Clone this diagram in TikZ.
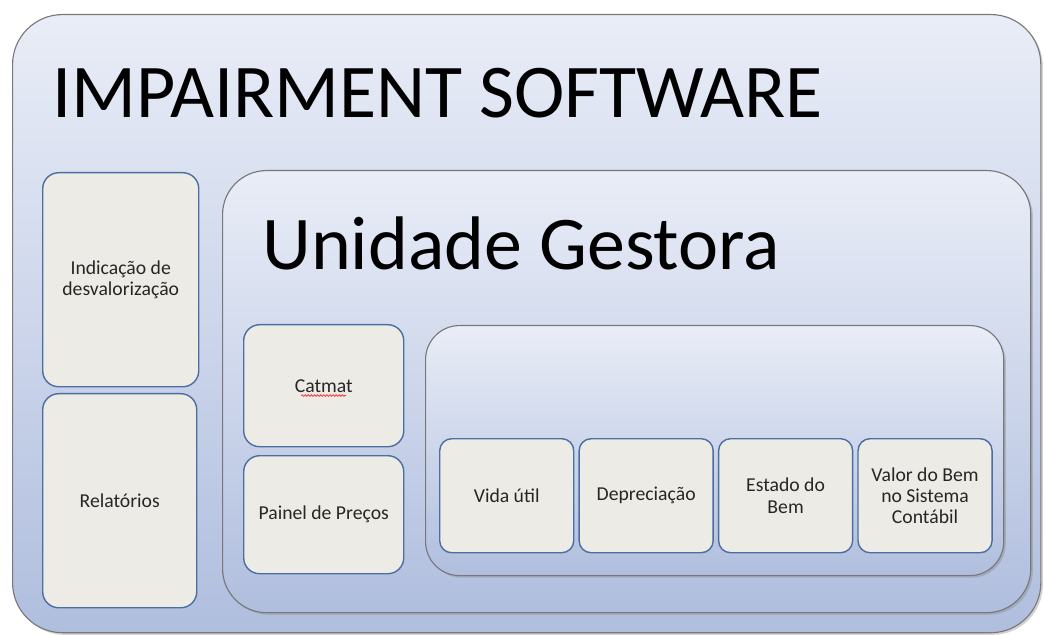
\documentclass[tikz,border=0pt]{standalone}
\usepackage{fontspec}
\setmainfont{Carlito}
\usepackage{xcolor}
\usepackage{tikz}
\usetikzlibrary{positioning,shadows,decorations.pathmorphing}
\definecolor{frameblue}{RGB}{74, 111, 160}
\definecolor{cardfill}{RGB}{236, 235, 229}
\definecolor{paneltop}{RGB}{233, 237, 247}
\definecolor{panelbottom}{RGB}{176, 190, 222}
\definecolor{panelline}{RGB}{120, 120, 120}
\definecolor{cardtext}{RGB}{38, 38, 38}
\tikzset{
  panelbox/.style={
    draw=panelline,
    line width=0.8pt,
    top color=paneltop,
    bottom color=panelbottom,
    drop shadow={shadow xshift=1.5pt, shadow yshift=-1.5pt, opacity=0.35},
    anchor=north west,
    inner sep=0pt
  },
  cardbox/.style={
    draw=frameblue,
    line width=1pt,
    fill=cardfill,
    rounded corners=0.4cm,
    align=center,
    anchor=north west,
    text=cardtext,
    font=\fontsize{14}{15}\selectfont
  },
  tinycard/.style={
    cardbox,
    rounded corners=0.3cm,
    minimum width=3.35cm,
    minimum height=2.85cm
  },
  bigtitle/.style={
    anchor=base west,
    inner sep=0pt,
    font=\fontsize{54}{60}\selectfont
  }
}

\begin{document}
\begin{tikzpicture}[x=0.025cm, y=-0.025cm]
  \useasboundingbox (0,0) rectangle (1045,635);

  % outer frame
  \node[panelbox, rounded corners=1.25cm, minimum width=25.7cm, minimum height=15.45cm] (software) at (12,14) {};
  \node[bigtitle] (softtitle) at (52,118) {IMPAIRMENT SOFTWARE};

  \node[cardbox, minimum width=3.9cm, minimum height=5.35cm] (indic) at (42,172) {Indicação de\\desvalorização};
  \node[cardbox, minimum width=3.85cm, minimum height=5.35cm] (relat) at (42,393) {Relatórios};

  % unidade gestora
  \node[panelbox, rounded corners=1.1cm, minimum width=20.2cm, minimum height=11.05cm] (gestora) at (222,170) {};
  \node[bigtitle] (gesttitle) at (262,270) {Unidade Gestora};

  \node[cardbox, minimum width=4cm, minimum height=3.05cm] (catmat) at (243,324) {Catmat};
  \node[cardbox, minimum width=4cm, minimum height=2.95cm] (painel) at (243,455) {Painel de Preços};
  \draw[red!85, line width=0.5pt, decorate, decoration={snake, amplitude=0.6pt, segment length=2.2pt}]
    ([xshift=-16pt, yshift=-7pt]catmat.center) -- ([xshift=16pt, yshift=-7pt]catmat.center);

  % bem
  \node[panelbox, rounded corners=0.85cm, minimum width=14.45cm, minimum height=6.25cm] (bem) at (425,325) {};
  \node[tinycard] (vida) at (439,438) {Vida útil};
  \node[tinycard, right=0.1cm of vida.north east, anchor=north west] (depre) {Depreciação};
  \node[tinycard, right=0.1cm of depre.north east, anchor=north west] (estado) {Estado do\\Bem};
  \node[tinycard, right=0.1cm of estado.north east, anchor=north west] (valor) {Valor do Bem\\no Sistema\\Contábil};
\end{tikzpicture}
\end{document}
